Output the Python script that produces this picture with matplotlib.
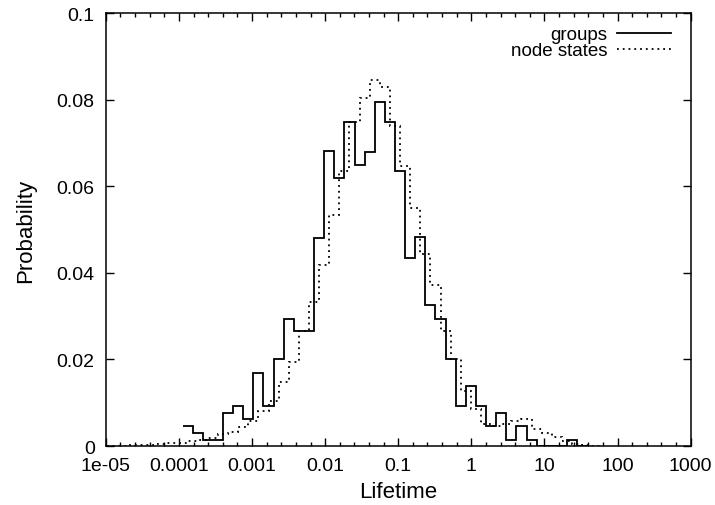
# lifetime histogram: groups vs node states (log x axis)

import numpy as np
import matplotlib.pyplot as plt
from matplotlib.ticker import FixedLocator, FuncFormatter

plt.rcParams['font.family'] = ['Liberation Sans', 'DejaVu Sans']

# histogram bins, log10 of lifetime
bin_width = 0.1384
groups_start = -3.951
nodes_start = -4.989

groups_prob = [0.0047, 0.0031, 0.0015, 0.0015, 0.0077, 0.0093, 0.0062, 0.0169, 0.0093, 0.0202,
               0.0294, 0.0265, 0.0265, 0.0480, 0.0683, 0.0619, 0.0750, 0.0650, 0.0680, 0.0795,
               0.0750, 0.0635, 0.0434, 0.0482, 0.0326, 0.0294, 0.0202, 0.0093, 0.0139, 0.0093,
               0.0047, 0.0077, 0.0015, 0.0047, 0.0015, 0.0, 0.0, 0.0, 0.0015, 0.0]

nodes_prob = [0.0001, 0.0001, 0.0002, 0.0002, 0.0003, 0.0004, 0.0006,
              0.0008, 0.0011, 0.0015, 0.0018, 0.0027, 0.0033, 0.0043, 0.0058, 0.0081, 0.0104,
              0.0148, 0.0195, 0.0265, 0.0334, 0.0418, 0.0533, 0.0635, 0.0750, 0.0805, 0.0845,
              0.0830, 0.0740, 0.0647, 0.0550, 0.0443, 0.0372, 0.0265, 0.0200, 0.0127, 0.0085,
              0.0051, 0.0047, 0.0051, 0.0058, 0.0062, 0.0039, 0.0031, 0.0020, 0.0012, 0.0005,
              0.0002, 0.0001]

x_ticks = [1e-5, 1e-4, 1e-3, 1e-2, 1e-1, 1, 10, 100, 1000]
y_ticks = [0, 0.02, 0.04, 0.06, 0.08, 0.1]


def bin_edges(start, n):
    return 10 ** (start + bin_width * np.arange(n + 1))


fig = plt.figure(figsize=(7.15, 5.06), dpi=100)
ax = fig.add_axes([0.148, 0.1166, 0.818, 0.855])

ax.stairs(groups_prob, bin_edges(groups_start, len(groups_prob)), baseline=None,
          color='black', linewidth=1.3, label='groups')
ax.stairs(nodes_prob, bin_edges(nodes_start, len(nodes_prob)), baseline=None,
          color='black', linewidth=1.3, linestyle=(0, (1, 2.2)), label='node states')

ax.set_xscale('log')
ax.set_xlim(1e-5, 1000)
ax.set_ylim(0, 0.1)

ax.xaxis.set_major_locator(FixedLocator(x_ticks))
minor = [10 ** (k + 0.2 * m) for k in range(-5, 3) for m in range(1, 5)]
ax.xaxis.set_minor_locator(FixedLocator(minor))
ax.yaxis.set_major_locator(FixedLocator(y_ticks))
ax.yaxis.set_minor_locator(FixedLocator([]))

fmt = FuncFormatter(lambda v, p: '%g' % v)
ax.xaxis.set_major_formatter(fmt)
ax.yaxis.set_major_formatter(fmt)

ax.tick_params(which='both', direction='in', top=True, right=True, labelsize=14, pad=8)
ax.tick_params(which='major', length=6, width=1)
ax.tick_params(which='minor', length=3, width=1)
for s in ax.spines.values():
    s.set_linewidth(1.1)

ax.set_xlabel('Lifetime', fontsize=16, labelpad=5)
ax.set_ylabel('Probability', fontsize=16, labelpad=15)

ax.legend(loc='upper right', bbox_to_anchor=(0.9795, 0.988), frameon=False,
          markerfirst=False, fontsize=13.5, handlelength=2.9, handletextpad=0.5,
          labelspacing=-0.05, borderaxespad=0, borderpad=0.4)

fig.savefig('out.png', dpi=100)
